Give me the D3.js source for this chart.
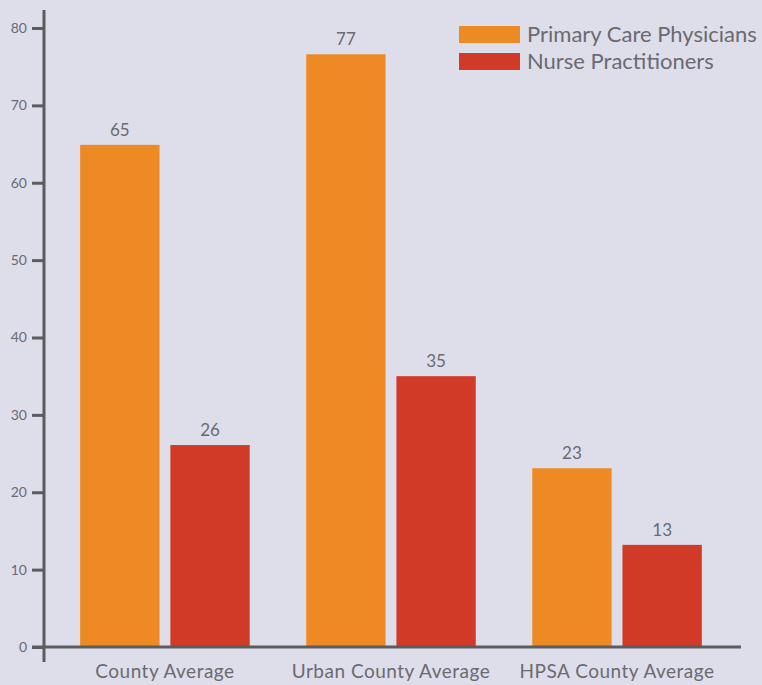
<!DOCTYPE html>
<html>
<head>
<meta charset="utf-8">
<script src="https://cdn.jsdelivr.net/npm/d3@7"></script>
<style>
  body { margin: 0; background: #dedeea; }
  svg { display: block; font-family: Lato, "Noto Sans", sans-serif; }
</style>
</head>
<body>
<svg id="drawing_region"></svg>
<script>
// data
const categories = ['County Average', 'Urban County Average', 'HPSA County Average'];
const seriesNames = ['Primary Care Physicians', 'Nurse Practitioners'];
const physicians = [64.9, 76.6, 23.1];
const nurses = [26.1, 35.0, 13.2];
const yTicks = [0, 10, 20, 30, 40, 50, 60, 70, 80];

const colors = ['#ee8a24', '#d13a27'];
const axisColor = '#5b5b60';
const textColor = '#6a6a70';

const width = 762, height = 685;

const svg = d3.select('#drawing_region')
    .attr('width', width)
    .attr('height', height);

const rows = categories.map((c, i) => ({ category: c, values: [physicians[i], nurses[i]] }));

const x0 = d3.scaleBand()
    .domain(categories)
    .range([44, 738])
    .paddingInner(0.25)
    .paddingOuter(0.16);

const x1 = d3.scaleBand()
    .domain(d3.range(seriesNames.length))
    .range([0, x0.bandwidth()])
    .paddingInner(0.12);

const y = d3.scaleLinear()
    .domain([0, 80])
    .range([647, 28]);

// bars
const groups = svg.append('g').selectAll('g')
    .data(rows)
    .join('g')
    .attr('transform', d => `translate(${x0(d.category)},0)`);

groups.selectAll('rect')
    .data(d => d.values.map((v, k) => ({ k, v })))
    .join('rect')
    .attr('x', d => x1(d.k))
    .attr('width', x1.bandwidth())
    .attr('y', d => y(d.v))
    .attr('height', d => y(0) - y(d.v))
    .attr('fill', d => colors[d.k]);

groups.selectAll('text')
    .data(d => d.values.map((v, k) => ({ k, v })))
    .join('text')
    .attr('x', d => x1(d.k) + x1.bandwidth() / 2)
    .attr('y', d => y(d.v) - 9)
    .attr('text-anchor', 'middle')
    .attr('fill', textColor)
    .style('font-size', '17px')
    .text(d => d3.format('.0f')(d.v));

// y axis
const yAxis = svg.append('g')
    .attr('transform', 'translate(44,0)')
    .call(d3.axisLeft(y).tickValues(yTicks).tickSize(12).tickPadding(5).tickSizeOuter(0))
    .attr('font-family', null)
    .attr('font-size', null);
yAxis.select('.domain').remove();
yAxis.selectAll('line').attr('stroke', axisColor).attr('stroke-width', 3);
yAxis.selectAll('text').attr('fill', textColor).style('font-size', '14px');

svg.append('line')
    .attr('x1', 44).attr('x2', 44)
    .attr('y1', 10).attr('y2', 662)
    .attr('stroke', axisColor).attr('stroke-width', 3);

// x axis
const xAxis = svg.append('g')
    .attr('transform', `translate(0,${y(0)})`)
    .call(d3.axisBottom(x0).tickSize(0).tickPadding(18))
    .attr('font-family', null)
    .attr('font-size', null);
xAxis.select('.domain').remove();
xAxis.selectAll('text')
    .attr('fill', textColor)
    .style('font-size', '19px')
    .style('letter-spacing', '0.5px');

svg.append('line')
    .attr('x1', 32).attr('x2', 741)
    .attr('y1', y(0)).attr('y2', y(0))
    .attr('stroke', axisColor).attr('stroke-width', 3);

// legend
const legend = svg.append('g').attr('transform', 'translate(459,26)');
const items = legend.selectAll('g')
    .data(seriesNames)
    .join('g')
    .attr('transform', (d, i) => `translate(0,${i * 27})`);
items.append('rect')
    .attr('width', 61).attr('height', 17)
    .attr('fill', (d, i) => colors[i]);
items.append('text')
    .attr('x', 68).attr('y', 16)
    .attr('fill', textColor)
    .style('font-size', '22px')
    .text(d => d);
</script>
</body>
</html>
